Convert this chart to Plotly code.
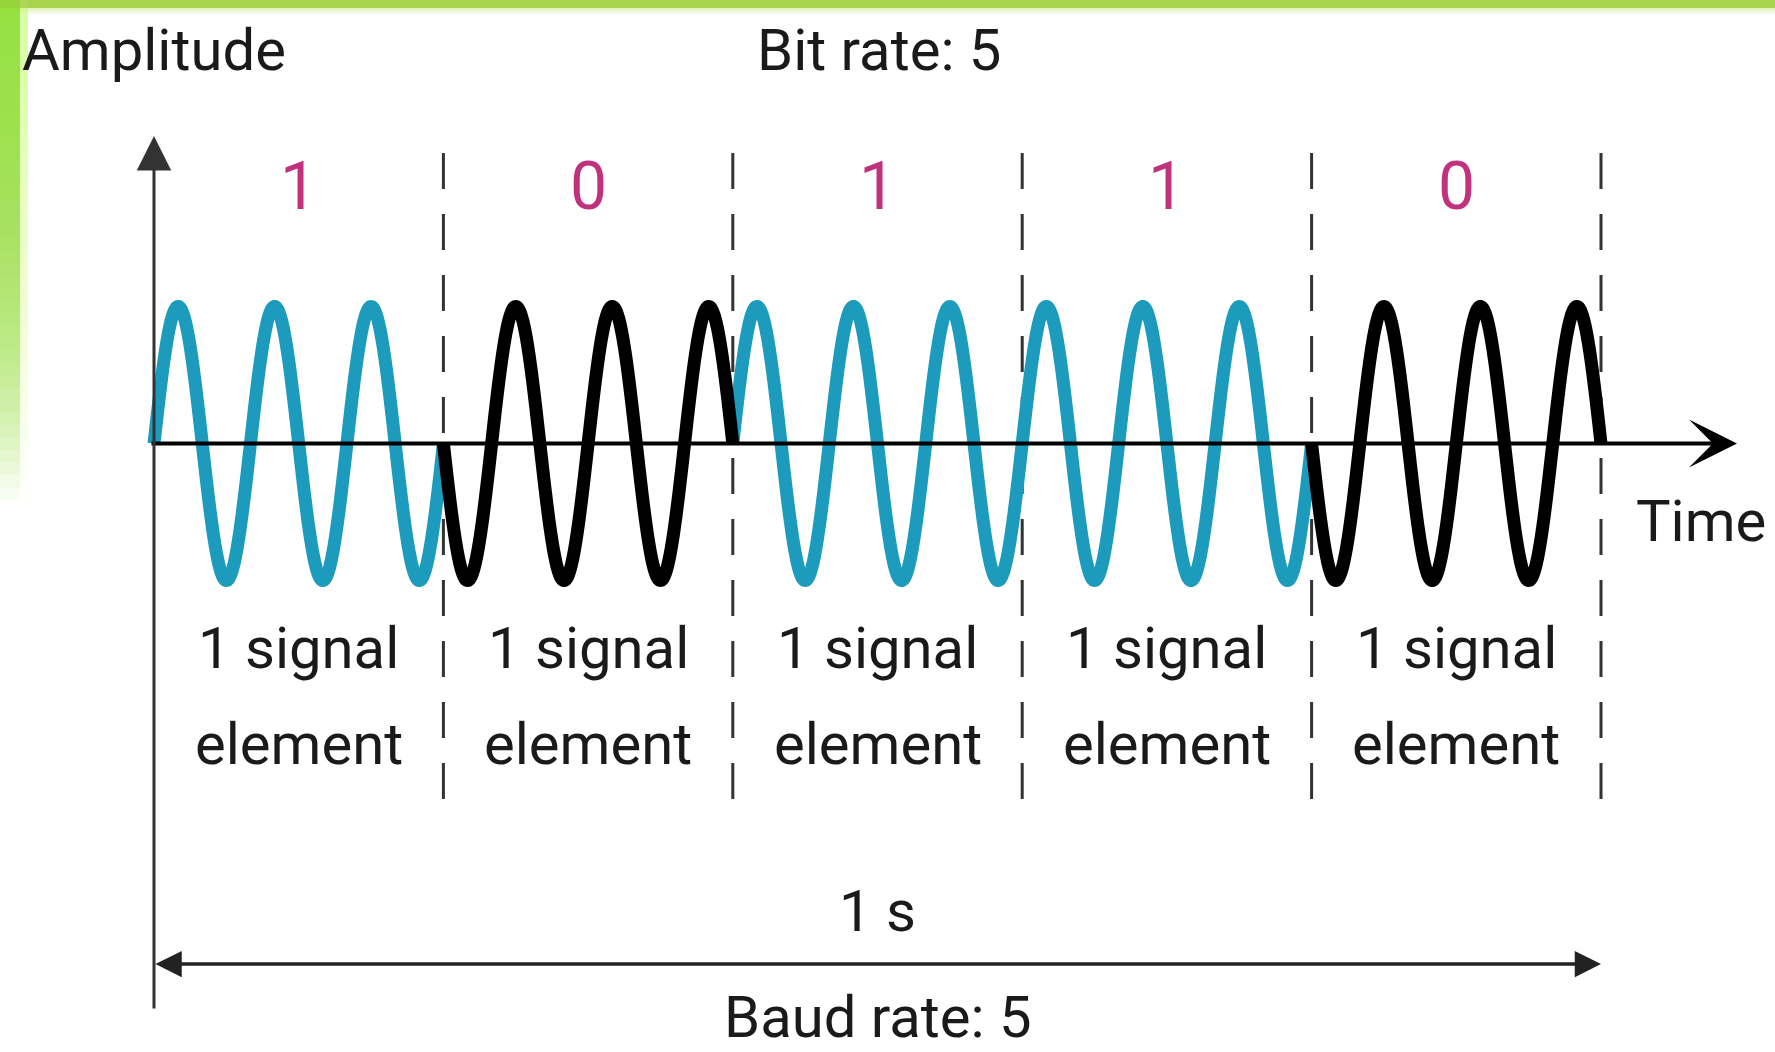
import numpy as np
import plotly.graph_objects as go

W, H = 1775, 1052

# ---- data ----
bits = [1, 0, 1, 1, 0]
bit_labels = ["1", "0", "1", "1", "0"]
element_lines = ["1 signal", "element"]
cycles_per_element = 3
baud_rate = 5
duration = 1.0          # seconds shown by the span arrow
amplitude = 1.0
top_title = "Bit rate: 5"
bottom_title = "Baud rate: 5"
y_title = "Amplitude"
x_title = "Time"
span_title = "1 s"

bit_color = {1: "#1c9bbd", 0: "#000000"}
label_color = "#c0327e"
text_color = "#1a1a1a"
FONT = "Roboto, Liberation Sans, sans-serif"

# ---- pixel -> data mapping (layout only) ----
X0_PX, X1_PX = 154, 1601
Y0_PX, AMP_PX = 443.5, 137.0
sx = (X1_PX - X0_PX) / duration
x_range = [-X0_PX / sx, (W - X0_PX) / sx]
y_range = [-(H - Y0_PX) / AMP_PX, Y0_PX / AMP_PX]


def xd(px):
    return (px - X0_PX) / sx


def yd(py):
    return (Y0_PX - py) / AMP_PX


fig = go.Figure()

seg = duration / baud_rate
freq = cycles_per_element * baud_rate
order = sorted(range(len(bits)), key=lambda i: -bits[i])  # teal first, black on top
for i in order:
    b = bits[i]
    t = np.linspace(i * seg, (i + 1) * seg, 600)
    sign = 1.0 if b == 1 else -1.0
    y = sign * amplitude * np.sin(2 * np.pi * freq * t)
    fig.add_trace(go.Scatter(
        x=t, y=y, mode="lines",
        line=dict(color=bit_color[b], width=13, simplify=False),
        hoverinfo="skip", showlegend=False,
    ))

shapes = []
# dashed element boundaries
for i in range(len(bits)):
    tb = (i + 1) * seg
    shapes.append(dict(type="line", xref="x", yref="y", x0=tb, x1=tb,
                       y0=yd(153), y1=yd(800), layer="below",
                       line=dict(color="#333333", width=3, dash="36px,25px")))

# slide decoration: green top stripe and fading left strip
shapes.append(dict(type="rect", xref="paper", yref="paper", x0=0, x1=1,
                   y0=1 - 8 / H, y1=1, line=dict(width=0), fillcolor="#a6d44c"))
for k, op in enumerate([0.55, 0.35, 0.2]):
    shapes.append(dict(type="rect", xref="paper", yref="paper", x0=0, x1=1,
                       y0=1 - (10 + 2 * k) / H, y1=1 - (8 + 2 * k) / H, line=dict(width=0),
                       fillcolor="#cdeb8a", opacity=op))
N = 40
for k in range(N):
    h = 500 * (k + 1) / N
    shapes.append(dict(type="rect", xref="paper", yref="paper", x0=0, x1=20 / W,
                       y0=1 - h / H, y1=1, line=dict(width=0),
                       fillcolor="#9adc36", opacity=0.065))
    shapes.append(dict(type="rect", xref="paper", yref="paper", x0=20 / W, x1=28 / W,
                       y0=1 - h / H, y1=1, line=dict(width=0),
                       fillcolor="#c8ee90", opacity=0.025))

annotations = []
# time axis
annotations.append(dict(x=xd(1737), y=0, ax=xd(150), ay=0, xref="x", yref="y",
                        axref="x", ayref="y", text="", showarrow=True,
                        arrowhead=3, arrowsize=2.0, arrowwidth=4, arrowcolor="#000000",
                        standoff=0))
# amplitude axis
annotations.append(dict(x=0, y=yd(136), ax=0, ay=yd(1010), xref="x", yref="y",
                        axref="x", ayref="y", text="", showarrow=True,
                        arrowhead=2, arrowsize=2.3, arrowwidth=3, arrowcolor="#333333",
                        standoff=0))
# 1 s span arrow
annotations.append(dict(x=duration, y=yd(964), ax=0, ay=yd(964), xref="x", yref="y",
                        axref="x", ayref="y", text="", showarrow=True,
                        arrowside="end+start", arrowhead=2, arrowsize=1.5,
                        arrowwidth=3.5, arrowcolor="#222222", standoff=0))

S = 58


def mid(baseline, size=S):
    return yd(baseline - 0.35 * size)


def txt(x, y, s, size=S, color=text_color, anchor="center"):
    annotations.append(dict(x=x, y=y, xref="x", yref="y", text=s, showarrow=False,
                            xanchor=anchor, yanchor="middle",
                            font=dict(family=FONT, size=size, color=color)))


txt(xd(154), mid(70), y_title)
txt(xd(879), mid(70), top_title)
txt(xd(1768), mid(541), x_title, anchor="right")
txt(duration / 2, mid(931), span_title)
txt(duration / 2, mid(1037), bottom_title)
for i, lab in enumerate(bit_labels):
    c = (i + 0.5) * seg
    txt(c, mid(210, 66), lab, size=66, color=label_color)
    txt(c, mid(668), element_lines[0])
    txt(c, mid(764), element_lines[1])

fig.update_layout(
    width=W, height=H,
    margin=dict(l=0, r=0, t=0, b=0),
    paper_bgcolor="white", plot_bgcolor="white",
    xaxis=dict(range=x_range, visible=False, fixedrange=True),
    yaxis=dict(range=y_range, visible=False, fixedrange=True),
    shapes=shapes, annotations=annotations,
    showlegend=False,
)

fig.write_html("out.html", config={"displayModeBar": False},
               post_script="document.body.style.margin='0';")
